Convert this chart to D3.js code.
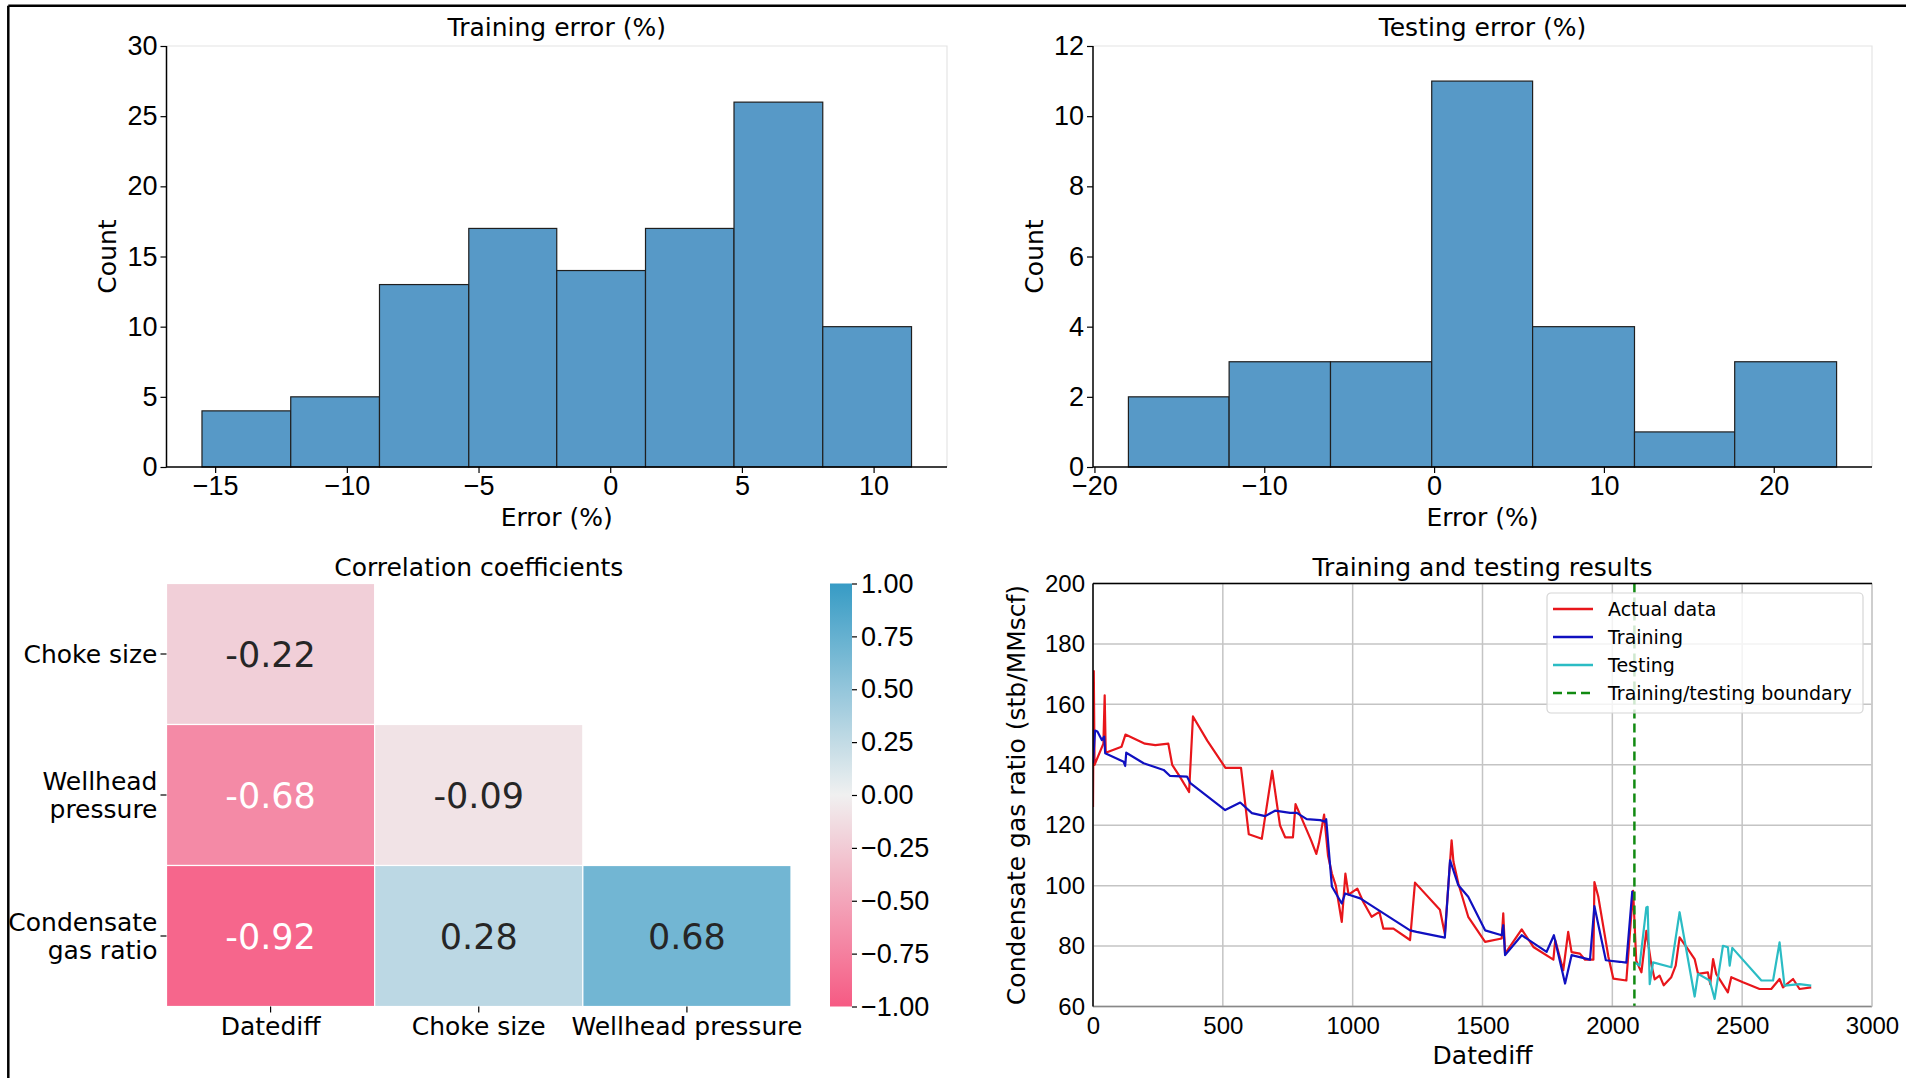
<!DOCTYPE html>
<html>
<head>
<meta charset="utf-8">
<script src="https://cdn.jsdelivr.net/npm/d3@7"></script>
<style>
  body { margin: 0; background: #fff; }
  svg { font-family: "DejaVu Sans", sans-serif; }
</style>
</head>
<body>
<svg id="fig" width="1906" height="1078"></svg>
<script>
// histogram data (bin edges)
const trainBinEdges = [-15.5, -12.13, -8.76, -5.37, -2.03, 1.34, 4.70, 8.07, 11.44]
const trainCounts = [4, 5, 13, 17, 14, 17, 26, 10]
const trainXTicks = [-15, -10, -5, 0, 5, 10]
const trainYTicks = [0, 5, 10, 15, 20, 25, 30]

const testBinEdges = [-18.0, -12.07, -6.1, -0.14, 5.8, 11.8, 17.7, 23.7]
const testCounts = [2, 3, 3, 11, 4, 1, 3]
const testXTicks = [-20, -10, 0, 10, 20]
const testYTicks = [0, 2, 4, 6, 8, 10, 12]

// correlation heatmap
const corrRows = ["Choke size", "Wellhead pressure", "Condensate gas ratio"]
const corrRowLines = [["Choke size"], ["Wellhead", "pressure"], ["Condensate", "gas ratio"]]
const corrCols = ["Datediff", "Choke size", "Wellhead pressure"]
const corrValues = [
    [-0.22, null, null],
    [-0.68, -0.09, null],
    [-0.92, 0.28, 0.68]
]
const colorbarTicks = [-1, -0.75, -0.5, -0.25, 0, 0.25, 0.5, 0.75, 1]

// training / testing results
const actualData = [[0,126],[3,171],[6,140],[40,147],[45,163],[49,144],[110,146],[125,150],[200,147],[240,146.5],
    [290,147],[305,140],[335,136],[370,131],[385,156],[440,148],[510,139],[570,139],[600,117],[650,115.5],
    [690,138],[720,120],[740,116],[770,116],[780,127],[840,115],[860,110.5],[870,114],[890,123.5],[905,110],
    [920,104],[935,100],[958,88],[972,104],[984,97],[1018,99],[1041,94.6],[1073,89.7],[1103,91.3],[1118,85.8],
    [1157,85.8],[1221,82],[1240,101],[1336,92],[1355,84],[1381,115],[1388,108],[1407,100.7],[1445,89.7],[1510,81.4],
    [1574,82.5],[1580,90.8],[1587,77.5],[1651,85.5],[1696,79.7],[1773,75.5],[1780,82],[1811,72],[1830,84.7],[1843,78],
    [1875,77.5],[1895,75.5],[1927,75.5],[1931,101.2],[1946,96.3],[1985,76.4],[2004,69.2],[2054,68.6],[2080,98.3],[2092,75.2],
    [2112,71.3],[2131,85],[2150,74],[2163,69],[2182,70.2],[2198,67],[2227,69.7],[2244,73.5],[2259,82.9],[2291,79],
    [2317,75.7],[2330,70.8],[2368,71.3],[2377,67.4],[2388,75.7],[2400,70.8],[2445,64.7],[2458,69.7],[2503,68],[2567,65.8],
    [2612,65.8],[2644,69.1],[2657,66.3],[2696,69.1],[2721,65.8],[2766,66.3]]
const trainingFit = [[0,140.5],[8,151.3],[17,151],[34,148.2],[43,149.3],[47,143.8],[118,141],[124,139.6],[128,144],[195,140.5],
    [272,138.3],[297,136.3],[362,136.1],[375,133.9],[509,125],[567,127.5],[612,124],[663,123],[701,124.8],[759,124.1],
    [785,124.1],[823,122],[875,121.7],[894,121.2],[898,122],[920,99.7],[958,94.1],[971,97.4],[1029,95.8],[1221,85.2],
    [1246,84.7],[1355,82.8],[1375,108.4],[1407,100.1],[1445,96.3],[1510,85.2],[1574,83.6],[1580,86.9],[1587,77],[1651,83.6],
    [1747,78.1],[1775,83.6],[1818,67.6],[1843,77],[1914,75.5],[1931,93.2],[1975,75.3],[2029,74.8],[2054,74.5],[2077,98.3]]
const testingFit = [[2086,74.6],[2105,73.5],[2131,92.8],[2136,93],[2144,67.4],[2157,74.6],[2227,73],[2259,91.2],[2317,63.3],[2330,70.8],
    [2375,68.6],[2394,62.5],[2426,80.1],[2445,79.6],[2452,73.5],[2462,79.4],[2574,68.6],[2619,68.6],[2644,81.2],[2663,66.9],
    [2721,67.4],[2766,66.9]]
const boundaryX = 2085
const resultXTicks = [0, 500, 1000, 1500, 2000, 2500, 3000]
const resultYTicks = [60, 80, 100, 120, 140, 160, 180, 200]
const legendItems = [
    {label: "Actual data", color: "#e8161b", dash: null},
    {label: "Training", color: "#1010c0", dash: null},
    {label: "Testing", color: "#2bbcc4", dash: null},
    {label: "Training/testing boundary", color: "#118a11", dash: "9,5"}
]

const svg = d3.select("#fig")
const FS = 25        // titles and axis labels
const TICK_FS = 27   // histogram + colorbar ticks

// outer frame of the screenshot
svg.append("line").attr("x1", 8.3).attr("x2", 8.3).attr("y1", 5.7).attr("y2", 1078)
    .attr("stroke", "#000").attr("stroke-width", 2.5)
svg.append("line").attr("x1", 8.3).attr("x2", 1906).attr("y1", 5.7).attr("y2", 5.7)
    .attr("stroke", "#000").attr("stroke-width", 2.5)

function styleAxis(size) {
    return g => {
        g.selectAll("text").attr("font-size", size).attr("fill", "#000")
        g.selectAll("line").attr("stroke", "#000").attr("stroke-width", 1.2)
        g.select(".domain").remove()
    }
}

function padDomain(lo, hi) {
    const m = (hi - lo) * 0.05
    return [lo - m, hi + m]
}

function histogram(box, edges, counts, xTicks, yTicks, title) {
    const x = d3.scaleLinear().domain(padDomain(edges[0], edges[edges.length - 1])).range([box.left, box.right])
    const y = d3.scaleLinear().domain([yTicks[0], yTicks[yTicks.length - 1]]).range([box.bottom, box.top])
    const g = svg.append("g")

    // light top/right spines
    g.append("path")
        .attr("d", `M${box.left},${box.top}H${box.right}V${box.bottom}`)
        .attr("fill", "none").attr("stroke", "#e4e4e4").attr("stroke-width", 1.2)

    g.selectAll("rect.bar")
        .data(counts)
        .enter()
        .append("rect")
        .attr("class", "bar")
        .attr("x", (d, i) => x(edges[i]))
        .attr("width", (d, i) => x(edges[i + 1]) - x(edges[i]))
        .attr("y", d => y(d))
        .attr("height", d => y(0) - y(d))
        .attr("fill", "#5799c7")
        .attr("stroke", "#1f1f1f")
        .attr("stroke-width", 1.2)

    g.append("g").attr("transform", `translate(0,${box.bottom})`)
        .call(d3.axisBottom(x).tickValues(xTicks).tickSize(6).tickPadding(3).tickSizeOuter(0))
        .call(styleAxis(TICK_FS))
    g.append("g").attr("transform", `translate(${box.left},0)`)
        .call(d3.axisLeft(y).tickValues(yTicks).tickSize(6).tickPadding(3).tickSizeOuter(0))
        .call(styleAxis(TICK_FS))

    // left and bottom spines
    g.append("path")
        .attr("d", `M${box.left},${box.top}V${box.bottom}H${box.right}`)
        .attr("fill", "none").attr("stroke", "#000").attr("stroke-width", 1.5)

    g.append("text").attr("x", (box.left + box.right) / 2).attr("y", 27).attr("dy", "0.35em")
        .attr("text-anchor", "middle").attr("font-size", FS).text(title)
    g.append("text").attr("x", (box.left + box.right) / 2).attr("y", 517).attr("dy", "0.35em")
        .attr("text-anchor", "middle").attr("font-size", FS).text("Error (%)")
    g.append("text")
        .attr("transform", `translate(${box.left - 59},${(box.top + box.bottom) / 2}) rotate(-90)`)
        .attr("dy", "0.35em").attr("text-anchor", "middle").attr("font-size", FS).text("Count")
}

histogram({left: 166.5, right: 947, top: 46, bottom: 467}, trainBinEdges, trainCounts, trainXTicks, trainYTicks, "Training error (%)")
histogram({left: 1093, right: 1872, top: 46, bottom: 467}, testBinEdges, testCounts, testXTicks, testYTicks, "Testing error (%)")

// ---- correlation heatmap ----
const hm = {left: 166.5, right: 791, top: 583.5, bottom: 1006.5}
const color = d3.scaleLinear().domain([-1, 0, 1]).range(["#f65a83", "#f0f0f0", "#379bc5"])
const xb = d3.scaleBand().domain(corrCols).range([hm.left, hm.right])
const yb = d3.scaleBand().domain(corrRows).range([hm.top, hm.bottom])

const cells = []
corrValues.forEach((row, i) => row.forEach((v, j) => {
    if (v !== null) cells.push({row: corrRows[i], col: corrCols[j], value: v})
}))

const hg = svg.append("g")
hg.selectAll("rect.cell")
    .data(cells)
    .enter()
    .append("rect")
    .attr("class", "cell")
    .attr("x", d => xb(d.col))
    .attr("y", d => yb(d.row))
    .attr("width", xb.bandwidth())
    .attr("height", yb.bandwidth())
    .attr("fill", d => color(d.value))
    .attr("stroke", "#fff")
    .attr("stroke-width", 1.2)

hg.selectAll("text.annot")
    .data(cells)
    .enter()
    .append("text")
    .attr("class", "annot")
    .attr("x", d => xb(d.col) + xb.bandwidth() / 2)
    .attr("y", d => yb(d.row) + yb.bandwidth() / 2)
    .attr("dy", "0.36em")
    .attr("text-anchor", "middle")
    .attr("font-size", 35)
    .attr("fill", d => d.value < -0.5 ? "#fff" : "#262626")
    .text(d => d.value.toFixed(2))

// row labels
corrRows.forEach((r, i) => {
    const cy = yb(r) + yb.bandwidth() / 2
    hg.append("line").attr("x1", hm.left - 6).attr("x2", hm.left).attr("y1", cy).attr("y2", cy)
        .attr("stroke", "#000").attr("stroke-width", 1.2)
    const lines = corrRowLines[i]
    lines.forEach((t, k) => {
        hg.append("text")
            .attr("x", hm.left - 9)
            .attr("y", cy + (k - (lines.length - 1) / 2) * 28)
            .attr("dy", "0.35em")
            .attr("text-anchor", "end")
            .attr("font-size", FS)
            .text(t)
    })
})
// column labels
corrCols.forEach(c => {
    const cx = xb(c) + xb.bandwidth() / 2
    hg.append("line").attr("x1", cx).attr("x2", cx).attr("y1", hm.bottom).attr("y2", hm.bottom + 6)
        .attr("stroke", "#000").attr("stroke-width", 1.2)
    hg.append("text").attr("x", cx).attr("y", 1026).attr("dy", "0.35em")
        .attr("text-anchor", "middle").attr("font-size", FS).text(c)
})
hg.append("text").attr("x", (hm.left + hm.right) / 2).attr("y", 567).attr("dy", "0.35em")
    .attr("text-anchor", "middle").attr("font-size", FS).text("Correlation coefficients")

// colorbar
const cb = {left: 830, right: 852, top: 583.5, bottom: 1006.5}
const cbScale = d3.scaleLinear().domain([-1, 1]).range([cb.bottom, cb.top])
const defs = svg.append("defs")
const grad = defs.append("linearGradient").attr("id", "cbgrad")
    .attr("x1", 0).attr("x2", 0).attr("y1", 1).attr("y2", 0)
d3.range(0, 1.0001, 0.05).forEach(t => {
    grad.append("stop").attr("offset", t).attr("stop-color", color(-1 + 2 * t))
})
hg.append("rect").attr("x", cb.left).attr("y", cb.top).attr("width", cb.right - cb.left)
    .attr("height", cb.bottom - cb.top).attr("fill", "url(#cbgrad)")
hg.append("g").attr("transform", `translate(${cb.right},0)`)
    .call(d3.axisRight(cbScale).tickValues(colorbarTicks).tickSize(5).tickPadding(4)
        .tickFormat(d3.format(".2f")).tickSizeOuter(0))
    .call(styleAxis(TICK_FS))

// ---- training and testing results ----
const rp = {left: 1093, right: 1872, top: 583.5, bottom: 1006.5}
const rx = d3.scaleLinear().domain([0, 3000]).range([rp.left, rp.right])
const ry = d3.scaleLinear().domain([60, 200]).range([rp.bottom, rp.top])
const rg = svg.append("g")

defs.append("clipPath").attr("id", "rclip").append("rect")
    .attr("x", rp.left).attr("y", rp.top).attr("width", rp.right - rp.left).attr("height", rp.bottom - rp.top)

rg.append("g").selectAll("line").data(resultXTicks).enter().append("line")
    .attr("x1", d => rx(d)).attr("x2", d => rx(d)).attr("y1", rp.top).attr("y2", rp.bottom)
    .attr("stroke", "#c4c4c4").attr("stroke-width", 1.5)
rg.append("g").selectAll("line").data(resultYTicks).enter().append("line")
    .attr("x1", rp.left).attr("x2", rp.right).attr("y1", d => ry(d)).attr("y2", d => ry(d))
    .attr("stroke", "#c4c4c4").attr("stroke-width", 1.5)

const line = d3.line().x(d => rx(d[0])).y(d => ry(d[1]))
const lines = rg.append("g").attr("clip-path", "url(#rclip)")
lines.append("path").datum(actualData).attr("d", line)
    .attr("fill", "none").attr("stroke", legendItems[0].color).attr("stroke-width", 2.2).attr("stroke-linejoin", "round")
lines.append("path").datum(trainingFit).attr("d", line)
    .attr("fill", "none").attr("stroke", legendItems[1].color).attr("stroke-width", 2.2).attr("stroke-linejoin", "round")
lines.append("path").datum(testingFit).attr("d", line)
    .attr("fill", "none").attr("stroke", legendItems[2].color).attr("stroke-width", 2.2).attr("stroke-linejoin", "round")
lines.append("line").attr("x1", rx(boundaryX)).attr("x2", rx(boundaryX)).attr("y1", rp.top).attr("y2", rp.bottom)
    .attr("stroke", legendItems[3].color).attr("stroke-width", 2.5).attr("stroke-dasharray", legendItems[3].dash)

// spines
rg.append("line").attr("x1", rp.left).attr("x2", rp.right).attr("y1", rp.bottom).attr("y2", rp.bottom)
    .attr("stroke", "#888").attr("stroke-width", 1.5)
rg.append("line").attr("x1", rp.right).attr("x2", rp.right).attr("y1", rp.top).attr("y2", rp.bottom)
    .attr("stroke", "#ccc").attr("stroke-width", 1.5)
rg.append("line").attr("x1", rp.left).attr("x2", rp.right).attr("y1", rp.top).attr("y2", rp.top)
    .attr("stroke", "#000").attr("stroke-width", 1.5)
rg.append("line").attr("x1", rp.left).attr("x2", rp.left).attr("y1", rp.top).attr("y2", rp.bottom)
    .attr("stroke", "#000").attr("stroke-width", 1.5)

rg.append("g").attr("transform", `translate(0,${rp.bottom})`)
    .call(d3.axisBottom(rx).tickValues(resultXTicks).tickSize(0).tickPadding(10).tickFormat(d3.format("d")))
    .call(styleAxis(24))
rg.append("g").attr("transform", `translate(${rp.left},0)`)
    .call(d3.axisLeft(ry).tickValues(resultYTicks).tickSize(0).tickPadding(8).tickFormat(d3.format("d")))
    .call(styleAxis(24))

rg.append("text").attr("x", (rp.left + rp.right) / 2).attr("y", 567).attr("dy", "0.35em")
    .attr("text-anchor", "middle").attr("font-size", FS).text("Training and testing results")
rg.append("text").attr("x", (rp.left + rp.right) / 2).attr("y", 1055).attr("dy", "0.35em")
    .attr("text-anchor", "middle").attr("font-size", FS).text("Datediff")
rg.append("text")
    .attr("transform", `translate(1016,${(rp.top + rp.bottom) / 2}) rotate(-90)`)
    .attr("dy", "0.35em").attr("text-anchor", "middle").attr("font-size", FS)
    .text("Condensate gas ratio (stb/MMscf)")

// legend
const lg = rg.append("g").attr("transform", "translate(1547,593)")
lg.append("rect").attr("width", 316).attr("height", 120).attr("rx", 4)
    .attr("fill", "#fff").attr("fill-opacity", 0.8).attr("stroke", "#d6d6d6").attr("stroke-width", 1.2)
legendItems.forEach((item, i) => {
    const cy = 16 + i * 28
    lg.append("line").attr("x1", 6).attr("x2", 46).attr("y1", cy).attr("y2", cy)
        .attr("stroke", item.color).attr("stroke-width", 2.5).attr("stroke-dasharray", item.dash)
    lg.append("text").attr("x", 61).attr("y", cy).attr("dy", "0.35em")
        .attr("font-size", 19).text(item.label)
})
</script>
</body>
</html>
